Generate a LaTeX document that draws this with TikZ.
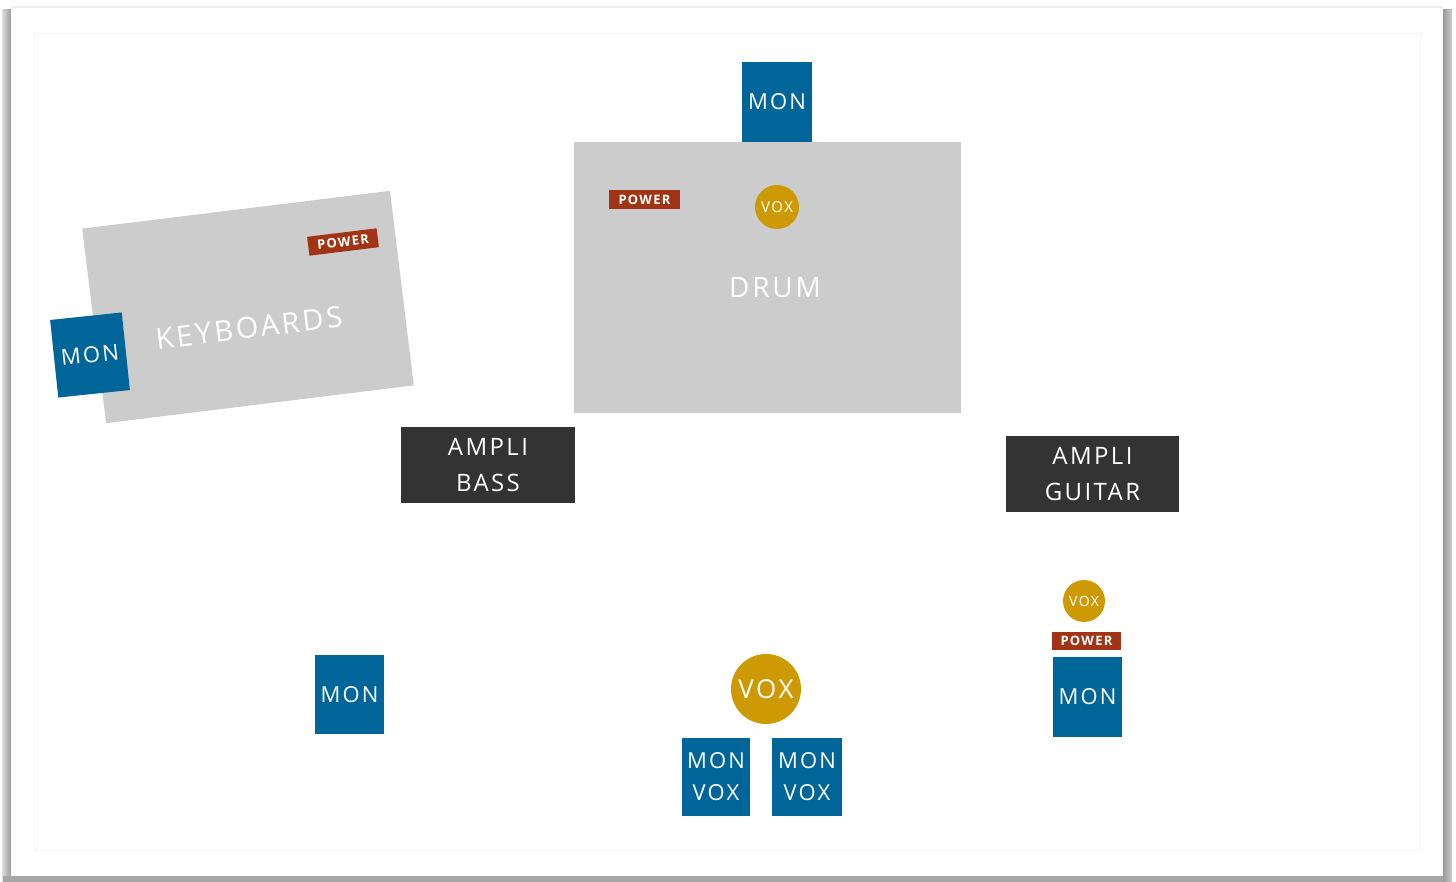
\documentclass[tikz,border=0pt]{standalone}
\usepackage{fontspec}
\newfontfamily\lbl{Open Sans}[LetterSpace=10]
\definecolor{monblue}{RGB}{0,102,153}
\definecolor{voxgold}{RGB}{206,154,4}
\definecolor{powred}{RGB}{160,52,20}
\definecolor{stagegray}{RGB}{204,204,204}
\definecolor{ampdark}{RGB}{51,51,51}
\tikzset{
  lab/.style={text=white, font=\lbl\fontsize{#1}{#1}\selectfont, align=center},
  monbox/.style={fill=monblue, inner sep=0pt, lab=22},
  powbox/.style={fill=powred, inner sep=0pt, minimum width=70pt, minimum height=19pt, text=white, font=\lbl\bfseries\fontsize{13}{13}\selectfont},
  voxdot/.style={circle, fill=voxgold, inner sep=0pt, text=white},
  ampbox/.style={fill=ampdark, inner sep=0pt, minimum width=174pt, minimum height=76pt, text=white, font=\lbl\fontsize{24}{36}\selectfont, align=center},
  stagebox/.style={fill=stagegray, inner sep=0pt}
}
\begin{document}
\begin{tikzpicture}[x=1pt,y=-1pt]
\useasboundingbox (0,0) rectangle (1456,882);
% page with shadow
\fill[white] (0,0) rectangle (1456,882);
\fill[left color=gray!25, right color=gray!80] (2,10) rectangle (11,882);
\fill[gray!70] (3,876) rectangle (1452,882);
\fill[left color=gray!80, right color=gray!40] (1443,10) rectangle (1452,882);
\fill[gray!12] (11,6) rectangle (1443,8);
\fill[white] (11,8) rectangle (1443,876);
\draw[gray!8, line width=1pt] (34,34) rectangle (1420,850);

% keyboards
\node[stagebox, minimum width=310pt, minimum height=196pt, rotate=7] (kbd) at (248,307) {};
\node[lab=29, rotate=7] (kbdtxt) at (249,328) {KEYBOARDS};
\node[powbox, rotate=7] (kbdpow) at (343,242) {POWER};
\node[monbox, minimum width=72pt, minimum height=78pt, rotate=6] (kbdmon) at (90,355) {MON};

% drum
\node[stagebox, minimum width=387pt, minimum height=271pt] (drum) at (767.5,277.5) {};
\node[lab=28] (drumtxt) at (775,288) {DRUM};
\node[monbox, minimum width=70pt, minimum height=80pt] (drummon) at (777,102) {\raisebox{-3pt}{MON}};
\node[powbox, minimum width=71pt] (drumpow) at (644.5,199.5) {POWER};
\node[voxdot, minimum size=44pt, font=\lbl\fontsize{15}{15}\selectfont] (drumvox) at (777,207) {VOX};

% amps
\node[ampbox] (ampbass) at (488,465) {AMPLI\\BASS};
\node[ampbox, minimum width=173pt] (ampgtr) at (1092.5,474) {AMPLI\\GUITAR};

% guitar position
\node[voxdot, minimum size=42pt, font=\lbl\fontsize{14}{14}\selectfont] (gtrvox) at (1084,601) {VOX};
\node[powbox, minimum width=69pt, minimum height=18pt] (gtrpow) at (1086.5,641) {POWER};
\node[monbox, minimum width=69pt, minimum height=80pt] (gtrmon) at (1087.5,697) {\raisebox{-3pt}{MON}};

% bass monitor
\node[monbox, minimum width=69pt, minimum height=79pt] (bassmon) at (349.5,694.5) {\raisebox{-2pt}{MON}};

% lead vocal
\node[voxdot, minimum size=70pt, font=\lbl\fontsize{26}{26}\selectfont] (leadvox) at (766,689) {VOX};
\node[monbox, minimum width=68pt, minimum height=78pt, font=\lbl\fontsize{22}{32}\selectfont] (monvox1) at (716,777) {MON\\VOX};
\node[monbox, minimum width=70pt, minimum height=78pt, font=\lbl\fontsize{22}{32}\selectfont] (monvox2) at (807,777) {MON\\VOX};
\end{tikzpicture}
\end{document}
